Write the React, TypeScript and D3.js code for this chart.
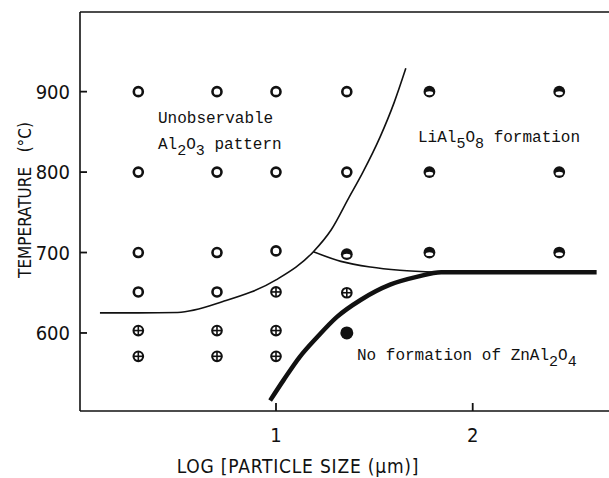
import React from "react";
import * as d3 from "d3";

const width = 609;
const height = 478;

// log particle size (um) vs temperature (C)
const openPoints = [
  [0.3, 900], [0.7, 900], [1.0, 900], [1.36, 900],
  [0.3, 800], [0.7, 800], [1.0, 800], [1.36, 800],
  [0.3, 700], [0.7, 700], [1.0, 702],
  [0.3, 651], [0.7, 651],
];
const crossPoints = [
  [1.0, 651], [1.36, 650],
  [0.3, 603], [0.7, 603], [1.0, 603],
  [0.3, 571], [0.7, 571], [1.0, 571],
];
const halfPoints = [
  [1.78, 900], [2.44, 900],
  [1.78, 800], [2.44, 800],
  [1.36, 698], [1.78, 700], [2.44, 700],
];
const filledPoints = [[1.36, 600]];

const upperBoundary = [
  [0.105, 625], [0.3, 625], [0.5, 625.5], [0.73, 639], [1.0, 666], [1.19, 701],
  [1.28, 728], [1.37, 768], [1.44, 799], [1.53, 844], [1.6, 886], [1.66, 929],
];
const branchBoundary = [
  [1.19, 701], [1.33, 689], [1.48, 682], [1.63, 678], [1.82, 675.5],
];
const lowerBoundary = [
  [0.97, 516], [1.04, 542], [1.12, 570], [1.21, 595], [1.31, 620],
  [1.43, 641], [1.58, 660], [1.72, 670], [1.84, 675.5], [2.2, 675.5], [2.63, 675.5],
];

const xTicks = [1, 2];
const yTicks = [600, 700, 800, 900];

const labelFont = "'DejaVu Sans', sans-serif";
const monoFont = "'Liberation Mono', 'DejaVu Sans Mono', monospace";

// text pieces: [text, isSubscript]
const labelAl2O3: [string, boolean][] = [["Al", false], ["2", true], ["O", false], ["3", true], [" pattern", false]];
const labelLiAl: [string, boolean][] = [["LiAl", false], ["5", true], ["O", false], ["8", true], [" formation", false]];
const labelZn: [string, boolean][] = [["No formation of ZnAl", false], ["2", true], ["O", false], ["4", true]];

function Chem({ x, y, parts }: { x: number; y: number; parts: [string, boolean][] }) {
  let prev = false;
  return (
    <text x={x} y={y} xmlSpace="preserve">
      {parts.map(([s, isSub], i) => {
        const dy = isSub === prev ? 0 : isSub ? 6 : -6;
        prev = isSub;
        return (
          <tspan key={i} dy={dy} fontSize={isSub ? 15 : 16}>
            {s}
          </tspan>
        );
      })}
    </text>
  );
}

export default function App() {
  const x = d3.scaleLinear().domain([0, 1]).range([79.3, 276]);
  const y = d3.scaleLinear().domain([503, 999]).range([411, 12]);
  const left = 80;
  const right = 609;
  const top = 12;
  const bottom = 411;

  const thinLine = d3
    .line<number[]>()
    .x((d) => x(d[0]))
    .y((d) => y(d[1]))
    .curve(d3.curveMonotoneX);
  const thickLine = d3
    .line<number[]>()
    .x((d) => x(d[0]))
    .y((d) => y(d[1]))
    .curve(d3.curveMonotoneX);

  return (
    <svg
      width={width}
      height={height}
      style={{ position: "absolute", left: 0, top: 0, background: "#fff" }}
    >
      {/* frame */}
      <line x1={left} x2={right} y1={top} y2={top} stroke="#111" strokeWidth={1.6} />
      <line x1={left} x2={right} y1={bottom} y2={bottom} stroke="#111" strokeWidth={1.6} />
      <line x1={left} x2={left} y1={top} y2={bottom} stroke="#111" strokeWidth={1.6} />

      {yTicks.map((t) => (
        <g key={t}>
          <line x1={left} x2={left + 7} y1={y(t)} y2={y(t)} stroke="#111" strokeWidth={1.8} />
          <text
            x={70}
            y={y(t)}
            dy="0.36em"
            textAnchor="end"
            fontFamily={labelFont}
            fontStretch="condensed"
            fontSize={20}
            fill="#111"
          >
            {t}
          </text>
        </g>
      ))}
      {xTicks.map((t) => (
        <g key={t}>
          <line x1={x(t)} x2={x(t)} y1={bottom} y2={bottom - 8} stroke="#111" strokeWidth={1.8} />
          <text
            x={x(t)}
            y={442}
            textAnchor="middle"
            fontFamily={labelFont}
            fontStretch="condensed"
            fontSize={20}
            fill="#111"
          >
            {t}
          </text>
        </g>
      ))}

      <text
        transform="translate(31,200) rotate(-90)"
        textAnchor="middle"
        fontFamily={labelFont}
        fontStretch="condensed"
        fontSize={17}
        fill="#111"
        xmlSpace="preserve"
      >
        {"TEMPERATURE\u00a0\u00a0\u00a0(°C)"}
      </text>
      <text
        x={298}
        y={473}
        textAnchor="middle"
        fontFamily={labelFont}
        fontStretch="condensed"
        fontSize={19}
        fill="#111"
        letterSpacing={0.8}
      >
        LOG [PARTICLE SIZE (µm)]
      </text>

      {/* boundaries */}
      <path d={thinLine(upperBoundary) ?? ""} fill="none" stroke="#111" strokeWidth={1.6} />
      <path d={thinLine(branchBoundary) ?? ""} fill="none" stroke="#111" strokeWidth={1.6} />
      <path d={thickLine(lowerBoundary) ?? ""} fill="none" stroke="#111" strokeWidth={4.5} />

      {/* markers */}
      {openPoints.map((d, i) => (
        <circle key={"o" + i} cx={x(d[0])} cy={y(d[1])} r={4.5} fill="#fff" stroke="#111" strokeWidth={2.6} />
      ))}
      {crossPoints.map((d, i) => {
        const cx = x(d[0]);
        const cy = y(d[1]);
        return (
          <g key={"c" + i}>
            <circle cx={cx} cy={cy} r={4.8} fill="#fff" stroke="#111" strokeWidth={2.1} />
            <line x1={cx - 4.8} x2={cx + 4.8} y1={cy} y2={cy} stroke="#111" strokeWidth={1.6} />
            <line x1={cx} x2={cx} y1={cy - 4.8} y2={cy + 4.8} stroke="#111" strokeWidth={1.6} />
          </g>
        );
      })}
      {halfPoints.map((d, i) => {
        const cx = x(d[0]);
        const cy = y(d[1]);
        return (
          <g key={"h" + i}>
            <circle cx={cx} cy={cy} r={5.9} fill="#111" />
            <ellipse cx={cx} cy={cy + 1.6} rx={3.7} ry={1.9} fill="#fff" />
          </g>
        );
      })}
      {filledPoints.map((d, i) => (
        <circle key={"f" + i} cx={x(d[0])} cy={y(d[1])} r={6.5} fill="#111" />
      ))}

      {/* region labels */}
      <g fontFamily={monoFont} fontSize={16} fill="#111">
        <text x={158} y={123}>Unobservable</text>
        <Chem x={158} y={149} parts={labelAl2O3} />
        <Chem x={418} y={142} parts={labelLiAl} />
        <Chem x={357} y={360} parts={labelZn} />
      </g>
    </svg>
  );
}
